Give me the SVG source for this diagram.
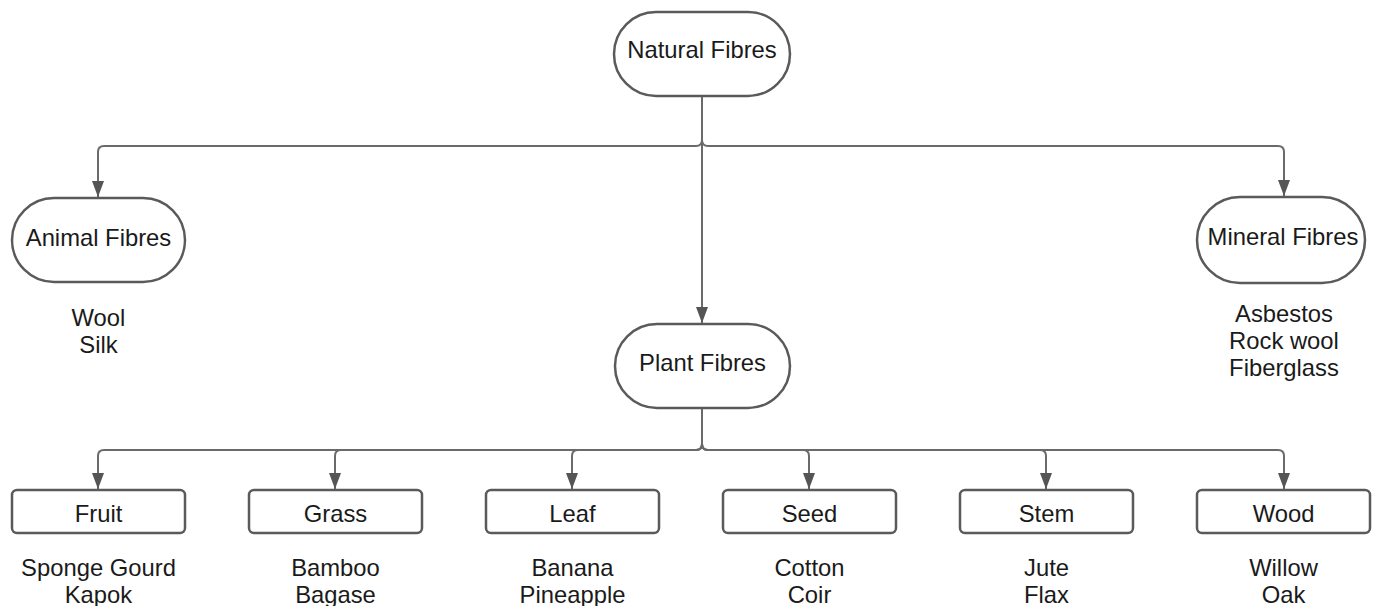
<svg xmlns="http://www.w3.org/2000/svg" width="1373" height="606" viewBox="0 0 1373 606">
<style>
.n{fill:#fff;stroke:#5a5a5a;stroke-width:2.5}
.t{font-family:"Liberation Sans",Arial,sans-serif;font-size:23.8px;fill:#1a1a1a;text-anchor:middle}
.c{fill:none;stroke:#6a6a6a;stroke-width:2}
</style>
<defs>
<marker id="a" viewBox="0 0 16 12" refX="16" refY="6" markerWidth="16" markerHeight="12" markerUnits="userSpaceOnUse" orient="auto">
<path d="M0,0 L16,6 L0,12 z" fill="#555"/>
</marker>
</defs>
<rect width="1373" height="606" fill="#fff"/>
<g id="connectors">
<path class="c" d="M702,96 V323" marker-end="url(#a)"/>
<path class="c" d="M702,96 V140 Q702,146 696,146 H104 Q98,146 98,152 V197" marker-end="url(#a)"/>
<path class="c" d="M702,96 V140 Q702,146 708,146 H1278 Q1284,146 1284,152 V196" marker-end="url(#a)"/>
<path class="c" d="M702,408 V444 Q702,450 696,450 H104 Q98,450 98,456 V489" marker-end="url(#a)"/>
<path class="c" d="M702,408 V444 Q702,450 696,450 H341 Q335,450 335,456 V489" marker-end="url(#a)"/>
<path class="c" d="M702,408 V444 Q702,450 696,450 H578 Q572,450 572,456 V489" marker-end="url(#a)"/>
<path class="c" d="M702,408 V444 Q702,450 708,450 H803 Q809,450 809,456 V489" marker-end="url(#a)"/>
<path class="c" d="M702,408 V444 Q702,450 708,450 H1040 Q1046,450 1046,456 V489" marker-end="url(#a)"/>
<path class="c" d="M702,408 V444 Q702,450 708,450 H1278 Q1284,450 1284,456 V489" marker-end="url(#a)"/>
</g>
<g id="natural"><rect class="n" x="614" y="12" width="176" height="84" rx="42"/><text class="t" x="702" y="58">Natural Fibres</text></g>
<g id="animal"><rect class="n" x="12" y="198" width="173" height="84" rx="42"/><text class="t" x="98.5" y="246">Animal Fibres</text>
<text class="t" x="98.5" y="326">Wool</text><text class="t" x="98.5" y="353">Silk</text></g>
<g id="mineral"><rect class="n" x="1197" y="197" width="168" height="86" rx="43"/><text class="t" x="1283" y="245">Mineral Fibres</text>
<text class="t" x="1284" y="322">Asbestos</text><text class="t" x="1284" y="349">Rock wool</text><text class="t" x="1284" y="376">Fiberglass</text></g>
<g id="plant"><rect class="n" x="615" y="324" width="175" height="84" rx="42"/><text class="t" x="702.5" y="371">Plant Fibres</text></g>
<g id="fruit"><rect class="n" x="12" y="490" width="173" height="43" rx="5"/><text class="t" x="98.5" y="522">Fruit</text>
<text class="t" x="98.5" y="576">Sponge Gourd</text><text class="t" x="98.5" y="603">Kapok</text></g>
<g id="grass"><rect class="n" x="249" y="490" width="173" height="43" rx="5"/><text class="t" x="335.5" y="522">Grass</text>
<text class="t" x="335.5" y="576">Bamboo</text><text class="t" x="335.5" y="603">Bagase</text></g>
<g id="leaf"><rect class="n" x="486" y="490" width="173" height="43" rx="5"/><text class="t" x="572.5" y="522">Leaf</text>
<text class="t" x="572.5" y="576">Banana</text><text class="t" x="572.5" y="603">Pineapple</text></g>
<g id="seed"><rect class="n" x="723" y="490" width="173" height="43" rx="5"/><text class="t" x="809.5" y="522">Seed</text>
<text class="t" x="809.5" y="576">Cotton</text><text class="t" x="809.5" y="603">Coir</text></g>
<g id="stem"><rect class="n" x="960" y="490" width="173" height="43" rx="5"/><text class="t" x="1046.5" y="522">Stem</text>
<text class="t" x="1046.5" y="576">Jute</text><text class="t" x="1046.5" y="603">Flax</text></g>
<g id="wood"><rect class="n" x="1197" y="490" width="173" height="43" rx="5"/><text class="t" x="1283.5" y="522">Wood</text>
<text class="t" x="1283.5" y="576">Willow</text><text class="t" x="1283.5" y="603">Oak</text></g>
</svg>
